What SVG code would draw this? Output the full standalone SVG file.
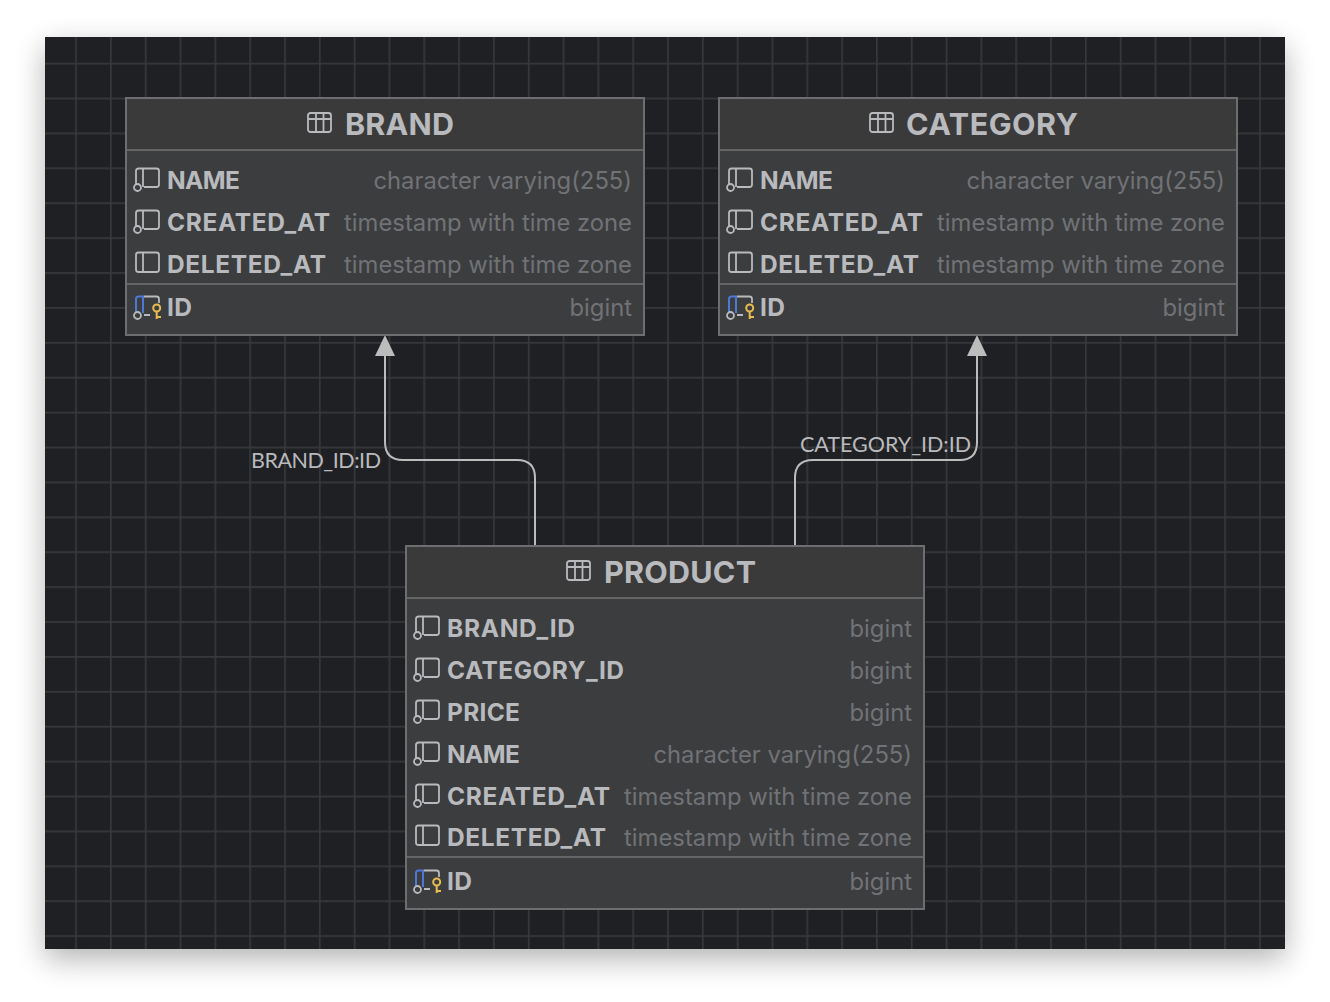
<svg xmlns="http://www.w3.org/2000/svg" width="1330" height="1002" viewBox="0 0 1330 1002">
<style>
.tb{fill:#3c3d3f;stroke:#6c6e70;stroke-width:2}
.hd{fill:#3a3a3b}
.sep{stroke:#646566;stroke-width:2;fill:none}
.title{font:700 30.500px Inter,"Liberation Sans",sans-serif;fill:#b9babd}
.f{font:700 24.500px Inter,"Liberation Sans",sans-serif;fill:#b9babd}
.t{font:400 23.800px Inter,"Liberation Sans",sans-serif;fill:#717276;text-anchor:end}
.lb{font:400 21.500px Lato,"Liberation Sans",sans-serif;fill:#b9babd}
.ic{fill:none;stroke:#b9babd;stroke-width:1.800}
.co{fill:none;stroke:#bcbcbc;stroke-width:2}
</style>
<defs>
<filter id="sh" x="-10%" y="-10%" width="120%" height="125%"><feGaussianBlur stdDeviation="15"/></filter>
<pattern id="grid" patternUnits="userSpaceOnUse" x="75.200" y="62.700" width="34.820" height="34.900">
<path d="M0.800 0V34.900M0 0.800H34.820" fill="none" stroke="#37383a" stroke-width="1.700"/>
</pattern>
<g id="tbl" class="ic"><rect x="0" y="0" width="23" height="19" rx="2.500"/><path d="M0 6H23M8 0V19M15.500 0V19"/></g>
<g id="col" class="ic"><path d="M2 16V3Q2 0.500 4.500 0.500H22.500Q25 0.500 25 3V16.500Q25 19 22.500 19H10M9 0.500V19"/><circle cx="3.500" cy="19.500" r="3.500"/></g>
<g id="col0" class="ic"><rect x="2" y="-0.500" width="23" height="19.500" rx="2.500"/><path d="M9 -0.500V19"/></g>
<g id="pk"><path class="ic" d="M10 0.500H22.500Q25 0.500 25 3V7M10 19H16"/><path d="M2 16V3Q2 0.500 4.500 0.500H9V17" fill="none" stroke="#4d78d6" stroke-width="2"/><circle class="ic" cx="3.500" cy="19.500" r="3.500"/><circle cx="22.700" cy="12" r="3.500" fill="none" stroke="#e8bc50" stroke-width="2"/><path d="M22.700 15V23M22.700 21H27" fill="none" stroke="#e8bc50" stroke-width="2"/></g>
</defs>
<rect x="45" y="47" width="1240" height="912" fill="#000" opacity=".3" filter="url(#sh)"/>
<rect id="panel" x="45" y="37" width="1240" height="912" fill="#1f2023"/>
<rect x="45" y="37" width="1240" height="912" fill="url(#grid)"/>
<g id="connectors">
<path class="co" d="M385 350V442Q385 460 403 460H517Q535 460 535 478V546"/>
<path d="M385 335L375 356H395Z" fill="#bcbcbc"/>
<text class="lb" x="251" y="468" textLength="130">BRAND_ID:ID</text>
<path class="co" d="M795 546V478Q795 460 813 460H960Q977 460 977 442V350"/>
<path d="M977 335L967 356H987Z" fill="#bcbcbc"/>
<text class="lb" x="800" y="452" textLength="171">CATEGORY_ID:ID</text>
</g>
<g id="brand">
<rect class="tb" x="126" y="98" width="518" height="237"/>
<rect class="hd" x="127" y="99" width="516" height="51"/>
<path class="sep" d="M127 150H643M127 284H643"/>
<use href="#tbl" x="308" y="113"/>
<text class="title" x="345" y="135" textLength="109">BRAND</text>
<use href="#col" x="134" y="168"/><text class="f" x="167" y="189" textLength="73">NAME</text><text class="t" x="632" y="189">character varying(255)</text>
<use href="#col" x="134" y="210"/><text class="f" x="167" y="231" textLength="163">CREATED_AT</text><text class="t" x="632" y="231">timestamp with time zone</text>
<use href="#col0" x="134" y="253"/><text class="f" x="167" y="273" textLength="159">DELETED_AT</text><text class="t" x="632" y="273">timestamp with time zone</text>
<use href="#pk" x="134" y="296"/><text class="f" x="167" y="316" textLength="25">ID</text><text class="t" x="632" y="316">bigint</text>
</g>
<g id="category">
<rect class="tb" x="719" y="98" width="518" height="237"/>
<rect class="hd" x="720" y="99" width="516" height="51"/>
<path class="sep" d="M720 150H1236M720 284H1236"/>
<use href="#tbl" x="870" y="113"/>
<text class="title" x="906" y="135" textLength="172">CATEGORY</text>
<use href="#col" x="727" y="168"/><text class="f" x="760" y="189" textLength="73">NAME</text><text class="t" x="1225" y="189">character varying(255)</text>
<use href="#col" x="727" y="210"/><text class="f" x="760" y="231" textLength="163">CREATED_AT</text><text class="t" x="1225" y="231">timestamp with time zone</text>
<use href="#col0" x="727" y="253"/><text class="f" x="760" y="273" textLength="159">DELETED_AT</text><text class="t" x="1225" y="273">timestamp with time zone</text>
<use href="#pk" x="727" y="296"/><text class="f" x="760" y="316" textLength="25">ID</text><text class="t" x="1225" y="316">bigint</text>
</g>
<g id="product">
<rect class="tb" x="406" y="546" width="518" height="363"/>
<rect class="hd" x="407" y="547" width="516" height="51"/>
<path class="sep" d="M407 598H923M407 857H923"/>
<use href="#tbl" x="567" y="561"/>
<text class="title" x="604" y="583" textLength="152">PRODUCT</text>
<use href="#col" x="414" y="616"/><text class="f" x="447" y="637" textLength="128">BRAND_ID</text><text class="t" x="912" y="637">bigint</text>
<use href="#col" x="414" y="658"/><text class="f" x="447" y="679" textLength="177">CATEGORY_ID</text><text class="t" x="912" y="679">bigint</text>
<use href="#col" x="414" y="700"/><text class="f" x="447" y="721" textLength="73">PRICE</text><text class="t" x="912" y="721">bigint</text>
<use href="#col" x="414" y="742"/><text class="f" x="447" y="763" textLength="73">NAME</text><text class="t" x="912" y="763">character varying(255)</text>
<use href="#col" x="414" y="784"/><text class="f" x="447" y="805" textLength="163">CREATED_AT</text><text class="t" x="912" y="805">timestamp with time zone</text>
<use href="#col0" x="414" y="826"/><text class="f" x="447" y="846" textLength="159">DELETED_AT</text><text class="t" x="912" y="846">timestamp with time zone</text>
<use href="#pk" x="414" y="870"/><text class="f" x="447" y="890" textLength="25">ID</text><text class="t" x="912" y="890">bigint</text>
</g>
</svg>
